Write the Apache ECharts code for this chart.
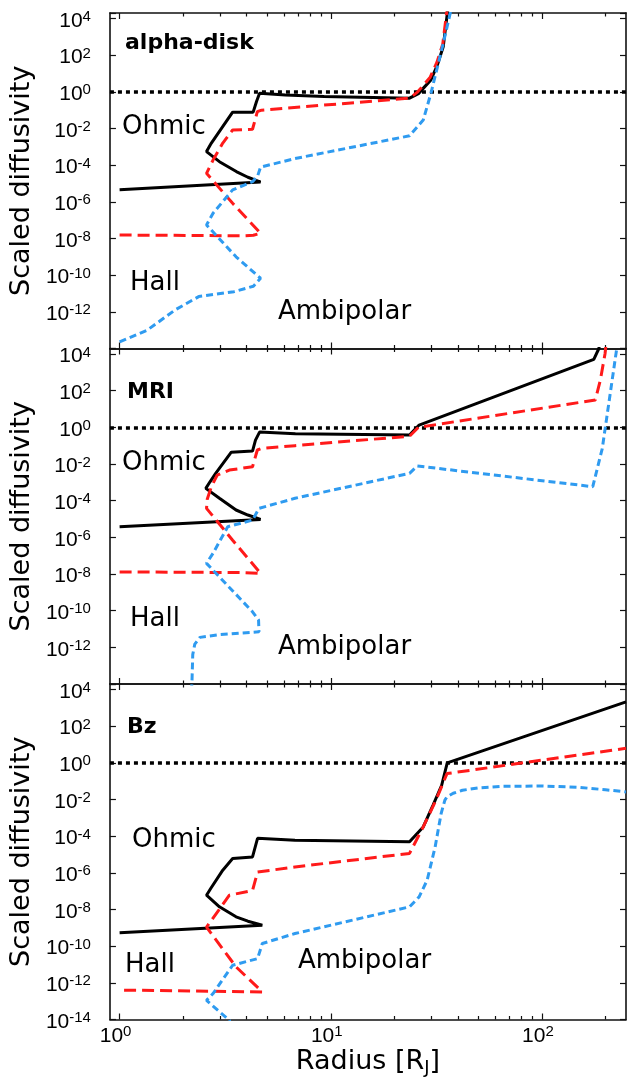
<!DOCTYPE html>
<html>
<head>
<meta charset="utf-8">
<script src="https://cdn.jsdelivr.net/npm/echarts@6/dist/echarts.min.js"></script>
<style>
  html, body { margin: 0; padding: 0; background: #fff; }
  #chart { width: 627px; height: 1079px; }
</style>
</head>
<body>
<div id="chart"></div>
<script>
// Axis ranges (radius in R_J, scaled diffusivity)
const radiusRange = [0.9, 250];
const diffusivityRange = [1e-14, 2e4];
const xLabelValues = [1, 10, 100];
const xMinorValues = [2, 3, 4, 5, 6, 7, 8, 9, 20, 30, 40, 50, 60, 70, 80, 90, 200];
const unityLevel = 1;
const panelTitles = ['alpha-disk', 'MRI', 'Bz'];

// alpha-disk model: [radius, diffusivity]
const alphaOhmic = [[1.0, 4.5e-6], [4.65, 1.2e-5], [4.05, 2.2e-5], [3.57, 4.5e-5], [2.97, 1.55e-4], [2.58, 5.5e-4],
  [2.72, 1.6e-3], [3.43, 7.8e-2], [4.29, 7.8e-2], [4.45, 0.3], [4.6, 0.83], [6.1, 0.68], [9.3, 0.55], [23.6, 0.45],
  [26, 0.8], [29.8, 4.5], [32, 30], [34.1, 300], [35.7, 2.3e4], [36.5, 1e5]];
const alphaHall = [[1.0, 1.55e-8], [3.82, 1.4e-8], [4.3, 1.5e-8], [4.65, 1.95e-8], [3.43, 8.3e-7], [2.58, 3.6e-5],
  [2.77, 1.9e-4], [3.08, 1.6e-3], [3.43, 8.3e-3], [4.26, 9.1e-3], [4.49, 8.3e-2], [4.7, 0.1], [23.6, 0.45],
  [25.8, 1.0], [29.5, 6], [31.8, 40], [33.9, 400], [35.4, 2.3e4], [36.2, 1e5]];
const alphaAmbipolar = [[1.0, 2.3e-14], [1.35, 1.0e-13], [1.83, 1.26e-12], [2.37, 6.8e-12], [3.48, 1.26e-11],
  [4.3, 2.5e-11], [4.65, 6.8e-11], [3.56, 1.0e-9], [2.58, 5.5e-8], [2.77, 2.4e-7], [3.43, 4.5e-6], [4.26, 1.26e-5],
  [4.5, 2.5e-5], [4.65, 7.8e-5], [6.77, 2.3e-4], [23.6, 4.0e-3], [27.4, 2.9e-2], [29.8, 0.83], [34.1, 450],
  [36.9, 2.3e4], [38, 1e5]];

// MRI model
const mriOhmic = [[1.0, 3.8e-6], [4.65, 9.5e-6], [4.05, 1.65e-5], [3.56, 3.1e-5], [2.97, 1.35e-4], [2.56, 4.7e-4],
  [2.68, 1.07e-3], [2.85, 3.1e-3], [3.38, 4.4e-2], [4.26, 5.1e-2], [4.4, 0.2], [4.6, 0.55], [6.8, 0.45],
  [23.6, 0.38], [26.2, 1.33], [176, 5100], [186, 2.0e4], [190, 1e5]];
const mriHall = [[1.0, 1.3e-8], [3.82, 1.2e-8], [4.65, 1.1e-8], [3.43, 7e-7], [2.58, 3.8e-5], [2.6, 1.2e-4],
  [2.72, 5.8e-4], [2.9, 2.5e-3], [3.31, 4.7e-3], [4.26, 7.1e-3], [4.49, 5.8e-2], [4.7, 0.07], [6.77, 0.1],
  [23.6, 0.33], [26, 1.0], [179, 31], [189, 380], [199, 1.07e4], [203, 1e5]];
const mriAmbipolar = [[2.16, 1e-15], [2.2, 1e-14], [2.22, 4e-13], [2.27, 1.5e-12], [2.4, 3.5e-12], [3.0, 5e-12],
  [4.57, 7e-12], [4.55, 3.1e-11], [4.26, 8.7e-11], [2.58, 3.8e-8], [2.77, 1.35e-7], [3.25, 3.8e-6], [4.26, 8.7e-6],
  [4.57, 3.8e-5], [6.77, 1.35e-4], [23.6, 3.1e-3], [25.7, 7.8e-3], [174, 5.8e-4], [193, 0.07], [226, 2e4],
  [235, 1e5]];

// Bz model
const bzOhmic = [[1.0, 5.4e-10], [4.74, 1.4e-9], [4.05, 2.3e-9], [3.56, 4e-9], [2.97, 1.4e-8], [2.58, 6e-8],
  [2.7, 1.4e-7], [3.08, 1.4e-6], [3.43, 6e-6], [4.26, 7.4e-6], [4.5, 7.6e-5], [6.77, 6e-5], [23.6, 4.9e-5],
  [27.4, 3.2e-4], [30.5, 5e-3], [33.5, 6e-2], [35.6, 1.0], [250, 2100]];
const bzHall = [[1.05, 4e-13], [4.74, 3.2e-13], [3.56, 7.4e-12], [2.58, 1.1e-9], [3.31, 6e-8], [4.26, 1.1e-7],
  [4.5, 1.1e-6], [6.77, 2.1e-6], [23.6, 1.15e-5], [27.4, 3.2e-4], [31.5, 9.3e-3], [35.5, 0.26], [250, 6.2]];
const bzAmbipolar = [[3.45, 1e-15], [3.31, 9e-15], [2.58, 1.1e-13], [2.77, 2.6e-13], [3.43, 9.1e-12], [4.5, 2.1e-11],
  [4.74, 1.4e-10], [6.77, 4.9e-10], [23.6, 1.4e-8], [26.2, 4.9e-8], [28.6, 4e-7], [31.2, 2.6e-5], [33.3, 1.7e-3],
  [34.7, 9.3e-3], [35.5, 1.4e-2], [38, 2.2e-2], [42, 3.2e-2], [50, 4.3e-2], [65, 5.2e-2], [100, 5.5e-2],
  [150, 4.6e-2], [200, 3.4e-2], [250, 2.6e-2]];

const panelSeries = [
  [alphaOhmic, alphaHall, alphaAmbipolar],
  [mriOhmic, mriHall, mriAmbipolar],
  [bzOhmic, bzHall, bzAmbipolar]
];

// ---- layout & styling ----
const log10 = Math.log10;
const X_MIN = log10(radiusRange[0]), X_MAX = log10(radiusRange[1]);
const Y_MIN = log10(diffusivityRange[0]), Y_MAX = log10(diffusivityRange[1]);
const gridLeft = 102, gridWidth = 524, gridHeight = 335.5;
const gridTops = [13, 348.5, 684];
const ink = '#111';
const textFont = 'DejaVu Sans';
const tickFont = 'Liberation Sans';

const powerRich = {
  b: { fontFamily: tickFont, fontSize: 21, lineHeight: 23, color: '#000' },
  s: { fontFamily: tickFont, fontSize: 15, lineHeight: 15, verticalAlign: 'top', color: '#000' }
};
function powerLabel(v) {
  const e = Math.round(v);
  if (Math.abs(v - e) > 1e-6) return '';
  return '{b|10}{s|' + e + '}';
}

const styles = [
  { color: '#000000', width: 3, type: 'solid' },
  { color: '#ff1a1a', width: 3, type: [12, 6] },
  { color: '#2f9bf0', width: 3, type: [7, 4] }
];

const grids = gridTops.map(t => ({ left: gridLeft, top: t, width: gridWidth, height: gridHeight }));

const xAxes = [];
const yAxes = [];
gridTops.forEach((t, i) => {
  const last = i === gridTops.length - 1;
  const base = { type: 'value', gridIndex: i, min: X_MIN, max: X_MAX, splitLine: { show: false } };
  const line = { show: true, onZero: false, lineStyle: { color: ink, width: 1.6 } };
  const noLine = { show: false, onZero: false };
  const majorTick = { show: true, inside: true, length: 6, customValues: xLabelValues.map(log10),
    lineStyle: { color: ink, width: 1.2 } };
  const minorTick = { show: true, inside: true, length: 3.5, customValues: xMinorValues.map(log10),
    lineStyle: { color: ink, width: 1.2 } };
  xAxes.push(Object.assign({}, base, {
    position: 'bottom', axisLine: line, axisTick: majorTick,
    axisLabel: { show: last, customValues: xLabelValues.map(log10), formatter: powerLabel, margin: 5,
      padding: [0, 8, 0, 0], rich: powerRich },
    name: last ? '{t|Radius [R}{j|J}{t|]}' : '', nameLocation: 'middle', nameGap: 27,
    nameTextStyle: { rich: {
      t: { fontFamily: textFont, fontSize: 27, lineHeight: 31, color: '#000' },
      j: { fontFamily: textFont, fontSize: 18, lineHeight: 16, verticalAlign: 'bottom', color: '#000' }
    } }
  }));
  xAxes.push(Object.assign({}, base, { position: 'bottom', axisLine: noLine, axisTick: minorTick, axisLabel: { show: false } }));
  xAxes.push(Object.assign({}, base, { position: 'top', axisLine: line, axisTick: majorTick, axisLabel: { show: false } }));
  xAxes.push(Object.assign({}, base, { position: 'top', axisLine: noLine, axisTick: minorTick, axisLabel: { show: false } }));

  const yBase = { type: 'value', gridIndex: i, min: Y_MIN, max: Y_MAX, interval: 2, splitLine: { show: false },
    axisLine: line, axisTick: { show: true, inside: true, length: 6, lineStyle: { color: ink, width: 1.2 } } };
  yAxes.push(Object.assign({}, yBase, {
    position: 'left',
    axisLabel: { show: true, showMinLabel: true, margin: 19, padding: [5, 0, 0, 0], rich: powerRich,
      formatter: v => (!last && v < Y_MIN + 1e-6) ? '' : powerLabel(v) },
    name: 'Scaled diffusivity', nameLocation: 'middle', nameRotate: 90, nameGap: 63,
    nameTextStyle: { fontFamily: textFont, fontSize: 27, color: '#000' }
  }));
  yAxes.push(Object.assign({}, yBase, { position: 'right', axisLabel: { show: false } }));
});

const series = [];
panelSeries.forEach((group, i) => {
  group.forEach((pts, k) => {
    const s = {
      type: 'line', xAxisIndex: 4 * i, yAxisIndex: 2 * i, symbol: 'none', showSymbol: false,
      silent: true, clip: true, z: 3 + k,
      data: pts.map(([r, d]) => [log10(r), log10(d)]),
      lineStyle: styles[k]
    };
    if (k === 0) {
      s.markLine = {
        silent: true, symbol: ['none', 'none'], label: { show: false }, z: 2,
        lineStyle: { color: '#000', width: 3.5, type: [4, 4] },
        data: [{ yAxis: log10(unityLevel) }]
      };
    }
    series.push(s);
  });
});

// Panel titles and region annotations
const annotations = [
  { text: panelTitles[0], x: 125, y: 43, bold: true },
  { text: 'Ohmic', x: 122, y: 127 }, { text: 'Hall', x: 130, y: 283 }, { text: 'Ambipolar', x: 278, y: 312 },
  { text: panelTitles[1], x: 127, y: 392, bold: true },
  { text: 'Ohmic', x: 122, y: 463 }, { text: 'Hall', x: 130, y: 619 }, { text: 'Ambipolar', x: 278, y: 647 },
  { text: panelTitles[2], x: 127, y: 727, bold: true },
  { text: 'Ohmic', x: 132, y: 840 }, { text: 'Hall', x: 125, y: 965 }, { text: 'Ambipolar', x: 298, y: 961 }
];
const graphic = annotations.map(a => ({
  type: 'text', x: a.x, y: a.y, silent: true, z: 10,
  style: { text: a.text, fontFamily: textFont, fontSize: a.bold ? 22 : 26, fontWeight: a.bold ? 'bold' : 'normal',
    fill: '#000', align: 'left', verticalAlign: 'middle' }
}));

const chart = echarts.init(document.getElementById('chart'), null, { renderer: 'canvas' });
chart.setOption({
  animation: false,
  backgroundColor: '#ffffff',
  grid: grids,
  xAxis: xAxes,
  yAxis: yAxes,
  series: series,
  graphic: graphic
});
</script>
</body>
</html>
